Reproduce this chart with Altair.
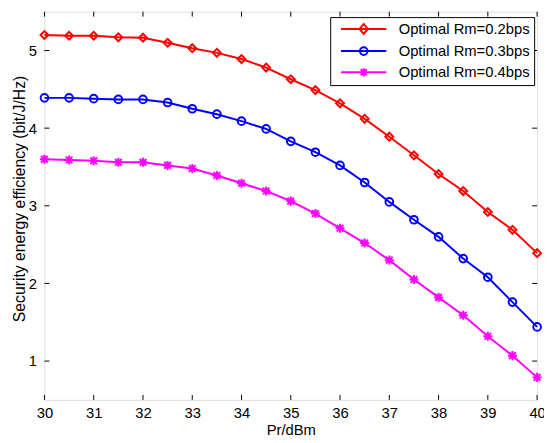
import altair as alt
import pandas as pd

# ---------------- data ----------------
pr = [30, 30.5, 31, 31.5, 32, 32.5, 33, 33.5, 34, 34.5, 35,
      35.5, 36, 36.5, 37, 37.5, 38, 38.5, 39, 39.5, 40]
see_02 = [5.20, 5.19, 5.19, 5.17, 5.165, 5.10, 5.03, 4.97, 4.89, 4.78, 4.63,
          4.49, 4.32, 4.12, 3.89, 3.65, 3.41, 3.19, 2.92, 2.69, 2.39]
see_03 = [4.39, 4.39, 4.38, 4.37, 4.37, 4.33, 4.25, 4.18, 4.09, 3.99, 3.83,
          3.69, 3.52, 3.30, 3.05, 2.82, 2.60, 2.32, 2.08, 1.76, 1.44]
see_04 = [3.60, 3.59, 3.58, 3.56, 3.56, 3.52, 3.48, 3.39, 3.29, 3.19, 3.06,
          2.90, 2.71, 2.52, 2.30, 2.05, 1.82, 1.59, 1.32, 1.07, 0.79]
series_names = ["Optimal Rm=0.2bps", "Optimal Rm=0.3bps", "Optimal Rm=0.4bps"]
series_colors = ["#ff0000", "#0000ff", "#ff00ff"]
x_ticks = [30, 31, 32, 33, 34, 35, 36, 37, 38, 39, 40]
y_ticks = [1, 2, 3, 4, 5]

rows = []
for name, vals in zip(series_names, [see_02, see_03, see_04]):
    for xv, yv in zip(pr, vals):
        rows.append({"pr": xv, "see": yv, "series": name})
df = pd.DataFrame(rows)

# ---------------- styling ----------------
W, H = 500, 394
TICK = 5
FONT = "Liberation Sans"
FS = 15

marker_paths = [
    "M-1,0L0,-1L1,0L0,1Z",
    "M0.97,0A0.97,0.97,0,1,1,-0.97,0A0.97,0.97,0,1,1,0.97,0Z",
    "M-1.15,0L1.15,0M0,-1.15L0,1.15M-0.85,-0.85L0.85,0.85M-0.85,0.85L0.85,-0.85",
]
marker_widths = [2, 2, 1.6]
# legend symbols: unit = 7 px (symbolSize 196)
legend_paths = [
    "M-3.286,0L3.286,0M-0.6,0L0,-0.72L0.6,0L0,0.72Z",
    "M-3.286,0L3.286,0M0.56,0A0.56,0.56,0,1,1,-0.56,0A0.56,0.56,0,1,1,0.56,0Z",
    "M-3.286,0L3.286,0M0,-0.6L0,0.6M-0.43,-0.43L0.43,0.43M-0.43,0.43L0.43,-0.43",
]

xscale = alt.Scale(domain=[30, 40], nice=False, zero=False)
yscale = alt.Scale(domain=[0.5, 5.5], nice=False, zero=False)

common_axis = dict(grid=False, domain=False, ticks=False, tickSize=0,
                   labelFont=FONT, labelFontSize=FS, labelColor="black",
                   titleFont=FONT, titleFontWeight="normal",
                   titleColor="black", labelOverlap=False, labelFlush=False)

x_axis = alt.Axis(values=x_ticks, title="Pr/dBm", labelPadding=6, titleFontSize=FS,
                  titleBaseline="alphabetic", titleY=35.5, **common_axis)
y_axis = alt.Axis(values=y_ticks, title="Security energy efficiency (bit/J/Hz)",
                  labelPadding=8, titleFontSize=16, titleBaseline="alphabetic",
                  titleAlign="center", titleAngle=270, titleX=-20, titleY=189.5,
                  **common_axis)

X = alt.X("pr:Q", scale=xscale, axis=x_axis)
Y = alt.Y("see:Q", scale=yscale, axis=y_axis)

cscale = alt.Scale(domain=series_names, range=series_colors)

base = alt.Chart(df)

lines = base.mark_line(strokeWidth=2).encode(
    x=X, y=Y,
    color=alt.Color("series:N", scale=cscale, legend=None),
)

markers = base.mark_point(filled=False, size=64, opacity=1).encode(
    x=X, y=Y,
    color=alt.Color("series:N", scale=cscale, legend=None),
    shape=alt.Shape("series:N", scale=alt.Scale(domain=series_names, range=marker_paths), legend=None),
    strokeWidth=alt.StrokeWidth("series:N", scale=alt.Scale(domain=series_names, range=marker_widths), legend=None),
)

leg = alt.Legend(orient="none", legendX=290, legendY=5.5, title=None, direction="vertical",
                 strokeColor="black", fillColor="white", padding=4,
                 symbolSize=196, symbolStrokeWidth=2, symbolOpacity=1,
                 symbolOffset=22, labelOffset=27.5, rowPadding=4.5,
                 labelFont=FONT, labelFontSize=FS, labelColor="black", labelLimit=0,
                 cornerRadius=0)

legend_layer = base.mark_point(filled=False, strokeWidth=2, opacity=0).encode(
    x=X, y=Y,
    color=alt.Color("series:N", scale=cscale, legend=leg),
    shape=alt.Shape("series:N", scale=alt.Scale(domain=series_names, range=legend_paths), legend=leg),
)

xt = pd.DataFrame({"t": x_ticks})
yt = pd.DataFrame({"t": y_ticks})

TX = alt.X("t:Q", scale=xscale, axis=x_axis)
TY = alt.Y("t:Q", scale=yscale, axis=y_axis)

tick_bottom = alt.Chart(xt).mark_rule(color="black", strokeWidth=1).encode(
    x=TX, y=alt.value(H), y2=alt.value(H - TICK))
tick_top = alt.Chart(xt).mark_rule(color="black", strokeWidth=1).encode(
    x=TX, y=alt.value(0), y2=alt.value(TICK))
tick_left = alt.Chart(yt).mark_rule(color="black", strokeWidth=1).encode(
    y=TY, x=alt.value(0), x2=alt.value(TICK))
tick_right = alt.Chart(yt).mark_rule(color="black", strokeWidth=1).encode(
    y=TY, x=alt.value(W), x2=alt.value(W - TICK))

chart = alt.layer(
    lines, markers, legend_layer, tick_bottom, tick_top, tick_left, tick_right
).resolve_scale(
    color="independent", shape="independent", strokeWidth="independent"
).properties(
    width=W, height=H,
    autosize=alt.AutoSizeParams(type="none"),
    padding={"left": 37, "top": 0.5, "right": 7, "bottom": 40.5},
).configure_view(
    stroke="black", strokeWidth=1.5
).configure(background="white")

chart.save("out.html", embed_options={"renderer": "svg", "actions": False})
